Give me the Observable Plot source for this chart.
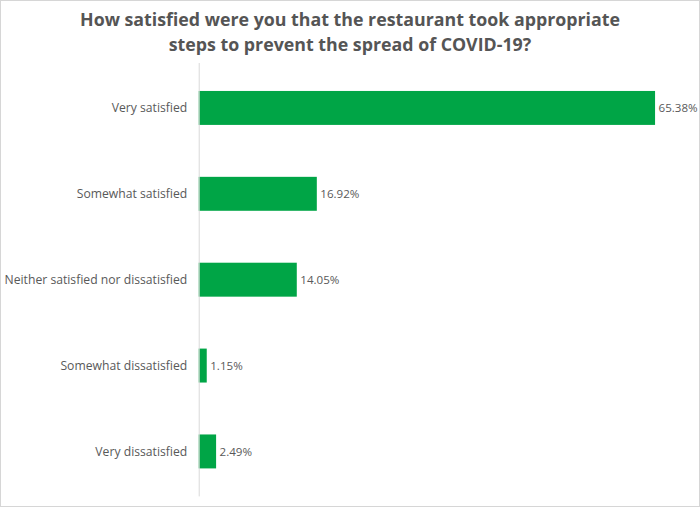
<!DOCTYPE html>
<html>
<head>
<meta charset="utf-8">
<script src="https://cdn.jsdelivr.net/npm/d3@7"></script>
<script src="https://cdn.jsdelivr.net/npm/@observablehq/plot@0.6"></script>
<style>
  html, body { margin: 0; padding: 0; background: #fff; }
  #frame { position: relative; width: 698px; height: 505px; border: 1px solid #d6d6d6; overflow: hidden; font-family: "Open Sans", sans-serif; }
  #title { position: absolute; left: 0; top: 6px; width: 698px; text-align: center; font-weight: 700; font-size: 17.8px; line-height: 25px; color: #555555; }
  #chart { position: absolute; left: -1px; top: 61px; }
  #chart svg { overflow: visible; }
</style>
</head>
<body>
<div id="frame">
  <div id="title">How satisfied were you that the restaurant took appropriate<br>steps to prevent the spread of COVID-19?</div>
  <div id="chart"></div>
</div>
<script>
const categories = ["Very satisfied", "Somewhat satisfied", "Neither satisfied nor dissatisfied", "Somewhat dissatisfied", "Very dissatisfied"];
const values = [65.38, 16.92, 14.05, 1.15, 2.49];
const labels = ["65.38%", "16.92%", "14.05%", "1.15%", "2.49%"];

const data = categories.map((c, i) => ({category: c, value: values[i], label: labels[i]}));

const chart = Plot.plot({
  width: 700,
  height: 446,
  marginLeft: 199,
  marginRight: 44,
  marginTop: 1,
  marginBottom: 11,
  style: {fontFamily: "Open Sans, sans-serif", fontSize: "12.2px", color: "#595959", background: "transparent"},
  x: {domain: [0, d3.max(values)], axis: null},
  y: {domain: categories, paddingInner: 0.61, paddingOuter: 0.305, label: null, tickSize: 0, tickPadding: 12},
  marks: [
    Plot.barX(data, {x: "value", y: "category", fill: "#00a546"}),
    Plot.ruleX([0], {stroke: "#d9d9d9", strokeWidth: 1}),
    Plot.text(data, {x: "value", y: "category", text: "label", textAnchor: "start", dx: 3, fill: "#595959", fontSize: 11.6})
  ]
});
document.getElementById("chart").appendChild(chart);
</script>
</body>
</html>
